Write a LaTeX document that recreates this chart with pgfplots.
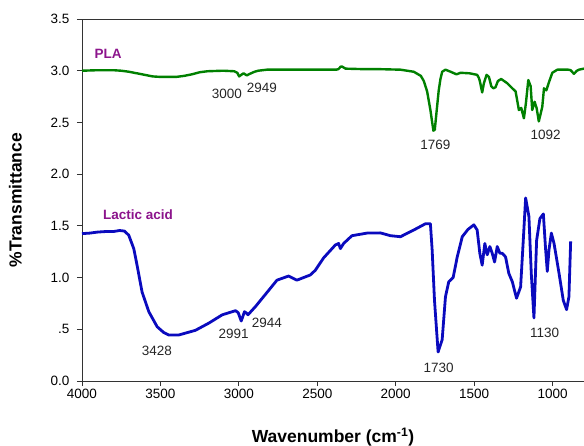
\documentclass[border=0pt]{standalone}
\usepackage{pgfplots}
\pgfplotsset{compat=1.18}
\usepackage{fontspec}
\setmainfont{Liberation Sans}
\definecolor{plagreen}{RGB}{0,128,0}
\definecolor{lablue}{RGB}{10,10,190}
\definecolor{lblpurple}{RGB}{140,20,140}
\begin{document}
\begin{tikzpicture}
\useasboundingbox (-82pt,-64pt) rectangle (502pt,381pt);
\begin{axis}[
  scale only axis, width=502pt, height=362pt,
  at={(0,0)}, anchor=south west,
  x dir=reverse, xmin=800, xmax=4000, ymin=0, ymax=3.5,
  axis lines*=left,
  axis line style={line width=0.8pt, black!80},
  tick align=outside, major tick length=5pt,
  tick style={line width=0.8pt, black!80},
  xtick={1000,1500,...,4000},
  ytick={0,0.5,...,3.5},
  yticklabels={0.0,.5,1.0,1.5,2.0,2.5,3.0,3.5},
  /pgf/number format/assume math mode=true,
  /pgf/number format/1000 sep={},
  ticklabel style={font=\fontsize{13.5}{15}\selectfont},
  yticklabel style={xshift=-4pt},
  xlabel={\textbf{Wavenumber (cm\textsuperscript{-1})}},
  ylabel={\textbf{\%Transmittance}},
  label style={font=\fontsize{17.5}{19}\selectfont},
  xlabel style={yshift=-22pt},
  ylabel style={yshift=22pt},
  clip=false,
]
\draw[line width=0.8pt, black!80] (rel axis cs:0,1) -- (rel axis cs:1,1);
\addplot[plagreen, line width=2.4pt, line join=round] coordinates {
(4000,3.00)(3900,3.005)(3800,3.005)(3750,3.0)(3700,2.99)(3650,2.975)(3600,2.96)(3550,2.945)(3500,2.94)(3450,2.94)(3400,2.94)(3350,2.95)(3300,2.965)(3250,2.985)(3200,2.995)(3100,3.0)(3030,2.995)(3010,2.98)(2998,2.945)(2985,2.96)(2970,2.975)(2960,2.965)(2949,2.955)(2930,2.97)(2900,2.99)(2877,3.0)(2821,3.01)(2700,3.01)(2500,3.01)(2380,3.01)(2366,3.015)(2350,3.04)(2342,3.04)(2320,3.02)(2200,3.015)(2100,3.015)(1970,3.01)(1885,2.99)(1840,2.95)(1821,2.90)(1800,2.80)(1779,2.62)(1760,2.42)(1751,2.43)(1740,2.60)(1726,2.81)(1715,2.92)(1704,2.99)(1683,3.01)(1650,2.99)(1613,2.965)(1587,2.98)(1530,2.975)(1481,2.96)(1470,2.93)(1464,2.90)(1449,2.79)(1438,2.88)(1421,2.96)(1406,2.94)(1391,2.85)(1378,2.83)(1364,2.84)(1349,2.90)(1328,2.92)(1290,2.88)(1257,2.83)(1236,2.80)(1215,2.62)(1200,2.64)(1183,2.54)(1170,2.69)(1155,2.91)(1140,2.85)(1130,2.62)(1115,2.70)(1102,2.64)(1088,2.51)(1066,2.65)(1055,2.83)(1040,2.81)(1023,2.89)(1002,2.98)(970,3.01)(900,3.01)(885,3.005)(864,2.97)(845,3.0)(832,3.01)(800,3.02)
};
\addplot[lablue, line width=2.8pt, line join=round] coordinates {
(4000,1.425)(3950,1.43)(3900,1.44)(3850,1.445)(3800,1.445)(3760,1.455)(3730,1.45)(3702,1.41)(3670,1.28)(3649,1.12)(3617,0.86)(3574,0.67)(3521,0.525)(3480,0.47)(3447,0.445)(3383,0.445)(3277,0.49)(3191,0.56)(3106,0.64)(3021,0.68)(3004,0.66)(2985,0.58)(2964,0.67)(2950,0.655)(2942,0.64)(2894,0.72)(2808,0.88)(2757,0.975)(2683,1.015)(2630,0.975)(2545,1.025)(2513,1.07)(2460,1.19)(2385,1.315)(2364,1.33)(2353,1.28)(2332,1.33)(2279,1.405)(2183,1.43)(2098,1.432)(2034,1.405)(1970,1.395)(1885,1.46)(1811,1.52)(1779,1.52)(1768,1.27)(1753,0.78)(1730,0.28)(1704,0.40)(1683,0.815)(1662,0.96)(1634,1.00)(1608,1.20)(1576,1.395)(1540,1.465)(1502,1.51)(1481,1.46)(1464,1.235)(1449,1.12)(1432,1.33)(1417,1.22)(1400,1.30)(1385,1.235)(1370,1.15)(1353,1.30)(1336,1.235)(1321,1.235)(1300,1.20)(1279,1.04)(1257,0.96)(1230,0.80)(1204,0.91)(1187,1.36)(1172,1.77)(1151,1.59)(1136,1.04)(1119,0.61)(1102,1.36)(1081,1.57)(1059,1.615)(1045,1.28)(1034,1.06)(1023,1.27)(1008,1.43)(991,1.33)(959,1.04)(932,0.78)(911,0.69)(896,0.815)(885,1.35)
};
\begin{scope}[every node/.style={font=\fontsize{13.5}{15}\selectfont, text=black!85, inner sep=0pt}]
\node at (axis cs:3077,2.78) {3000};
\node at (axis cs:2853,2.83) {2949};
\node at (axis cs:1747,2.28) {1769};
\node at (axis cs:1045,2.38) {1092};
\node at (axis cs:3523,0.29) {3428};
\node at (axis cs:3034,0.46) {2991};
\node at (axis cs:2821,0.56) {2944};
\node at (axis cs:1726,0.13) {1730};
\node at (axis cs:1051,0.47) {1130};
\end{scope}
\node[font=\bfseries\fontsize{13.5}{15}\selectfont, text=lblpurple, inner sep=0pt] at (axis cs:3834,3.16) {PLA};
\node[font=\bfseries\fontsize{13.5}{15}\selectfont, text=lblpurple, inner sep=0pt] at (axis cs:3643,1.605) {Lactic acid};
\end{axis}
\end{tikzpicture}
\end{document}
